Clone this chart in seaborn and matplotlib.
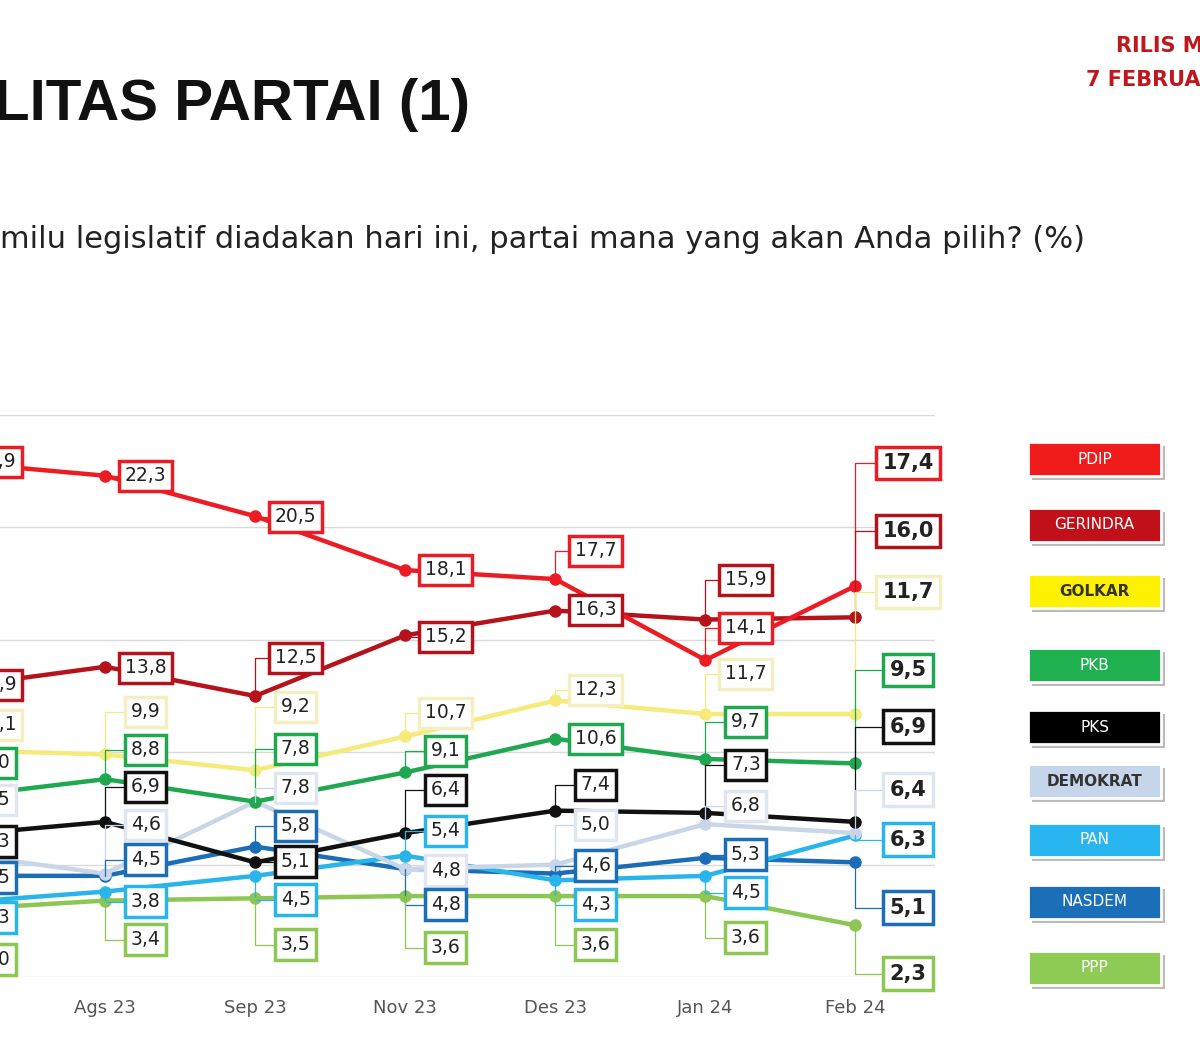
import numpy as np
import pandas as pd
import matplotlib
matplotlib.use('Agg')
import matplotlib.pyplot as plt
from matplotlib.patches import FancyBboxPatch
import seaborn as sns

# ---- data ----
months = ['Jul 23', 'Ags 23', 'Sep 23', 'Nov 23', 'Des 23', 'Jan 24', 'Feb 24']
parties = ['PDIP', 'GERINDRA', 'GOLKAR', 'PKB', 'PKS', 'DEMOKRAT', 'PAN', 'NASDEM', 'PPP']

pdip     = [22.9, 22.3, 20.5, 18.1, 17.7, 14.1, 17.4]
gerindra = [12.9, 13.8, 12.5, 15.2, 16.3, 15.9, 16.0]
golkar   = [10.1, 9.9, 9.2, 10.7, 12.3, 11.7, 11.7]
pkb      = [8.0, 8.8, 7.8, 9.1, 10.6, 9.7, 9.5]
pks      = [6.3, 6.9, 5.1, 6.4, 7.4, 7.3, 6.9]
demokrat = [5.5, 4.6, 7.8, 4.8, 5.0, 6.8, 6.4]
pan      = [3.3, 3.8, 4.5, 5.4, 4.3, 4.5, 6.3]
nasdem   = [4.5, 4.5, 5.8, 4.8, 4.6, 5.3, 5.1]
ppp      = [3.0, 3.4, 3.5, 3.6, 3.6, 3.6, 2.3]
values = [pdip, gerindra, golkar, pkb, pks, demokrat, pan, nasdem, ppp]

colors = {'PDIP': '#ec1c24', 'GERINDRA': '#b5121b', 'GOLKAR': '#f5ea7a',
          'PKB': '#1fa84f', 'PKS': '#111111', 'DEMOKRAT': '#c9d6e8',
          'PAN': '#29b4ea', 'NASDEM': '#1b6db5', 'PPP': '#8cc653'}
legend_face = {'PDIP': '#f01c1c', 'GERINDRA': '#c0111a', 'GOLKAR': '#fff200',
               'PKB': '#1fb04f', 'PKS': '#000000', 'DEMOKRAT': '#c5d5ea',
               'PAN': '#29b6f0', 'NASDEM': '#1a6fb8', 'PPP': '#8dcb55'}
box_edge = dict(colors, GOLKAR='#f3efc0', DEMOKRAT='#dfe6f0')

# label vertical positions (layout, in screen rows of the original)
label_rows = {
    'PDIP':     [462, 476, 517, 570, 551, 628, 463],
    'GERINDRA': [685, 668, 658, 637, 610, 580, 531],
    'GOLKAR':   [725, 712, 707, 713, 690, 674, 592],
    'PKB':      [763, 750, 749, 751, 739, 722, 670],
    'PKS':      [842, 787, 862, 790, 785, 765, 727],
    'DEMOKRAT': [800, 825, 788, 871, 825, 806, 790],
    'PAN':      [918, 902, 900, 831, 905, 893, 840],
    'NASDEM':   [878, 860, 826, 905, 866, 855, 908],
    'PPP':      [960, 940, 945, 948, 945, 938, 974],
}

df = pd.DataFrame([(m, i, p, v) for p, vals in zip(parties, values)
                   for i, (m, v) in enumerate(zip(months, vals))],
                  columns=['month', 'idx', 'party', 'value'])

W, H = 1200, 1060
fig = plt.figure(figsize=(W / 100, H / 100), dpi=100)
fig.patch.set_facecolor('white')

# plot area: x from 0 to 935 px, y from 415 to 977 px
ax = fig.add_axes([0, 1 - 977 / H, 935 / W, (977 - 415) / H])
ax.set_facecolor('none')
for yv in range(0, 26, 5):
    ax.axhline(yv, color='#d9d9d9', lw=1, zorder=0)

order = ['PPP', 'NASDEM', 'PAN', 'DEMOKRAT', 'PKS', 'PKB', 'GOLKAR', 'GERINDRA', 'PDIP']
for p in order:
    sub = df[df.party == p]
    sns.lineplot(data=sub, x='idx', y='value', color=colors[p], lw=3.2,
                 marker='o', markersize=9, markeredgewidth=0, ax=ax,
                 legend=False, zorder=3, clip_on=False)

ax.set_xticks(range(len(months)))
ax.set_xticklabels(months, fontsize=13, color='#555555')
ax.tick_params(length=0, pad=16)
ax.set_yticks([])
ax.set_xlabel('')
ax.set_ylabel('')
for s in ax.spines.values():
    s.set_visible(False)
ax.set_ylim(0, 25)
ax.set_xlim(0.3, 6.53)

def row_to_val(r):
    return 25 - (r - 415) / 22.5

for p, vals in zip(parties, values):
    for i, v in enumerate(vals):
        dx = 0.35 if i == 6 else 0.27
        ly = row_to_val(label_rows[p][i])
        last = i == 6
        ax.annotate(f'{v:.1f}'.replace('.', ','), xy=(i, v), xytext=(i + dx, ly),
                    ha='center', va='center', fontsize=15 if last else 13.5,
                    fontweight='bold' if last else 'normal', color='#222222',
                    annotation_clip=False, zorder=6,
                    bbox=dict(boxstyle='square,pad=0.3', fc='white',
                              ec=box_edge[p], lw=2.5),
                    arrowprops=dict(arrowstyle='-', color=colors[p], lw=0.9,
                                    shrinkA=0, shrinkB=0,
                                    connectionstyle='angle,angleA=0,angleB=90'))

# legend boxes on the right
legend_y = [459, 525, 591, 665, 727, 781, 840, 902, 968]
for p, yc in zip(parties, legend_y):
    x0, w, h = 1028, 133, 34
    fig.patches.append(FancyBboxPatch(((x0 + 4) / W, 1 - (yc + h / 2 + 4) / H), w / W, h / H,
                                      boxstyle='square,pad=0', fc='#bbbbbb', ec='none',
                                      transform=fig.transFigure, figure=fig))
    fig.patches.append(FancyBboxPatch((x0 / W, 1 - (yc + h / 2) / H), w / W, h / H,
                                      boxstyle='square,pad=0', fc=legend_face[p],
                                      ec='white', lw=2,
                                      transform=fig.transFigure, figure=fig))
    tc = '#333333' if p in ('GOLKAR', 'DEMOKRAT') else 'white'
    fig.text((x0 + w / 2) / W, 1 - yc / H, p, ha='center', va='center',
             fontsize=11, color=tc, fontweight='bold' if tc != 'white' else 'normal')

fig.text(-0.005, 1 - 105 / H, 'LITAS PARTAI (1)', fontsize=42, fontweight='bold',
         family='Liberation Sans', color='#111111', va='center', ha='left')
fig.text(0, 1 - 240 / H,
         'milu legislatif diadakan hari ini, partai mana yang akan Anda pilih? (%)',
         fontsize=22, color='#222222', va='center', ha='left')
fig.text(1116 / W, 1 - 46 / H, 'RILIS MEDIA', fontsize=15, fontweight='bold',
         color='#c0171d', va='center', ha='left')
fig.text(1086 / W, 1 - 80 / H, '7 FEBRUARI 2024', fontsize=15, fontweight='bold',
         color='#c0171d', va='center', ha='left')

fig.savefig('out.png', dpi=100)
